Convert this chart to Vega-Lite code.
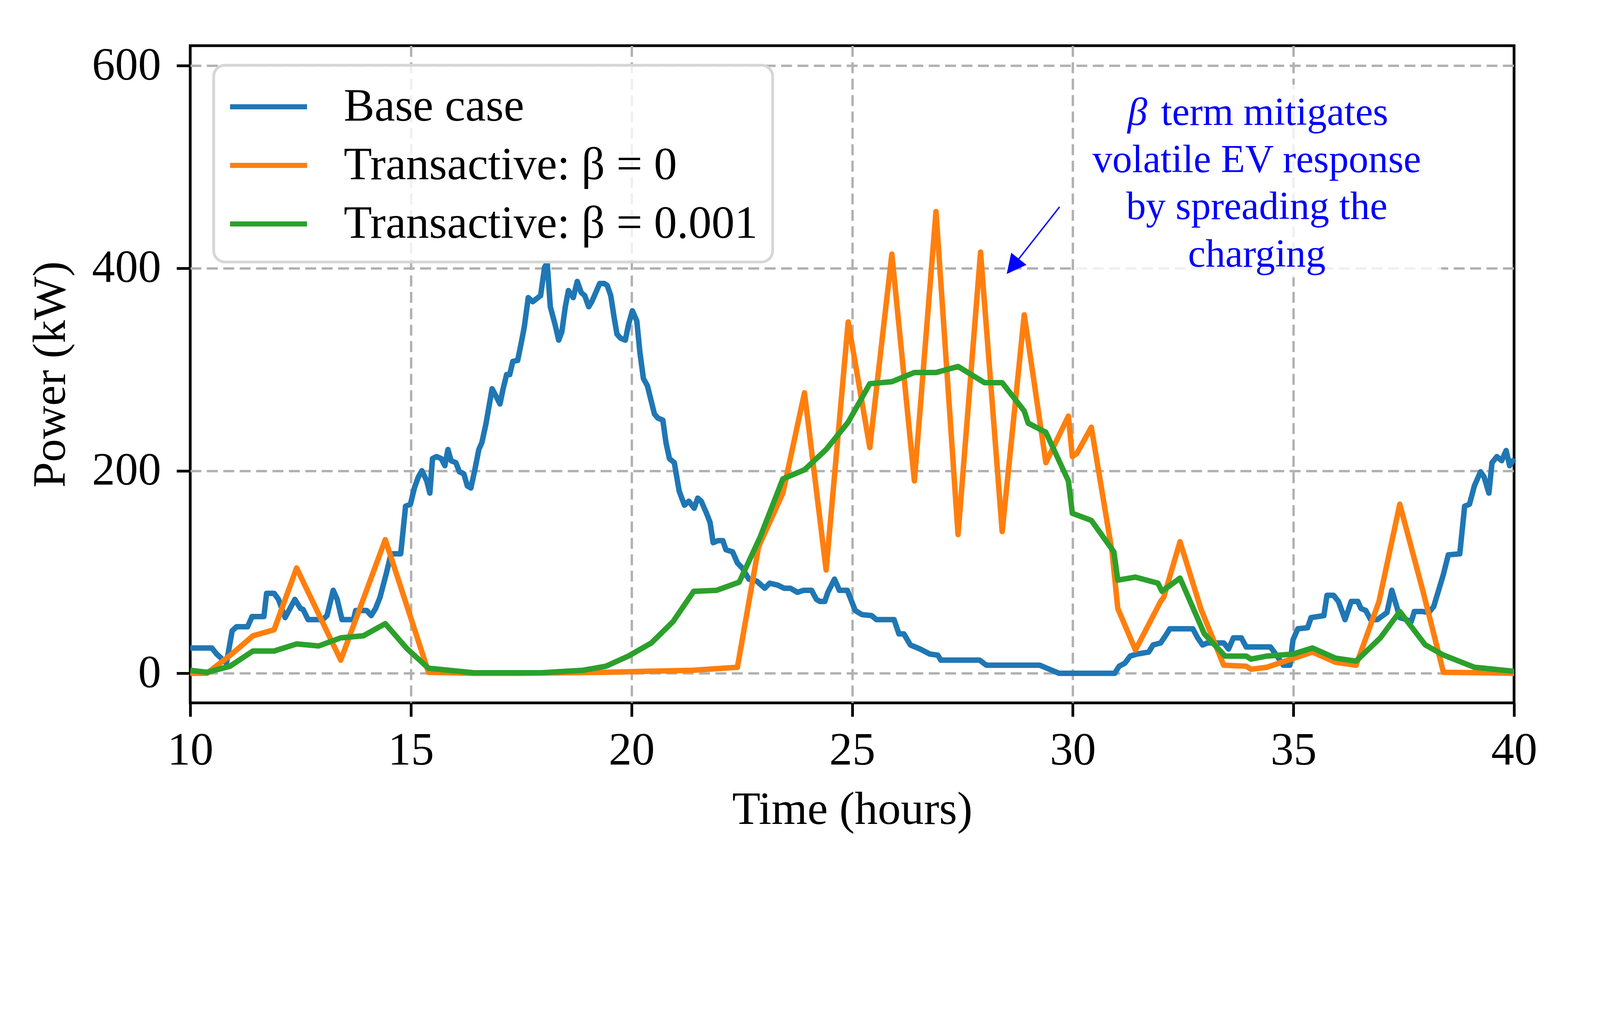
{
  "$schema": "https://vega.github.io/schema/vega-lite/v6.json",
  "width": 3389,
  "height": 1683,
  "autosize": {"type": "none"},
  "padding": {"left": 487, "top": 117, "right": 217, "bottom": 461},
  "background": "white",
  "view": {"stroke": "black", "strokeWidth": 7},
  "config": {
    "font": "Liberation Serif",
    "axis": {
      "domain": false,
      "grid": true,
      "gridColor": "#b0b0b0",
      "gridWidth": 6,
      "gridDash": [28, 14],
      "ticks": true,
      "tickColor": "black",
      "tickWidth": 7,
      "tickSize": 35,
      "labelFont": "Liberation Serif",
      "labelFontSize": 118,
      "labelColor": "black",
      "labelLimit": 1000,
      "labelFlush": false,
      "labelOverlap": false,
      "minExtent": 0,
      "maxExtent": 2000,
      "format": "d",
      "titleFont": "Liberation Serif",
      "titleFontSize": 118,
      "titleFontWeight": "normal",
      "titleColor": "black",
      "titleLimit": 3000
    },
    "legend": {
      "orient": "none",
      "legendX": 60,
      "legendY": 50,
      "padding": 38,
      "rowPadding": 22,
      "symbolType": "M-1.6,0H1.6",
      "symbolSize": 15178,
      "symbolStrokeWidth": 13,
      "symbolOffset": 34,
      "labelOffset": 124,
      "labelFont": "Liberation Serif",
      "labelFontSize": 118,
      "labelColor": "black",
      "labelLimit": 0,
      "strokeColor": "#d6d6d6",
      "strokeWidth": 7,
      "fillColor": "rgba(255,255,255,0.8)",
      "cornerRadius": 29
    }
  },
  "datasets": {
    "series": [
      {"hour": 10.0, "kw": 25, "series": "Base case"},
      {"hour": 10.49, "kw": 25, "series": "Base case"},
      {"hour": 10.6, "kw": 19, "series": "Base case"},
      {"hour": 10.7, "kw": 15, "series": "Base case"},
      {"hour": 10.82, "kw": 10, "series": "Base case"},
      {"hour": 10.95, "kw": 42, "series": "Base case"},
      {"hour": 11.05, "kw": 46, "series": "Base case"},
      {"hour": 11.3, "kw": 46, "series": "Base case"},
      {"hour": 11.4, "kw": 56, "series": "Base case"},
      {"hour": 11.67, "kw": 56, "series": "Base case"},
      {"hour": 11.73, "kw": 79, "series": "Base case"},
      {"hour": 11.9, "kw": 79, "series": "Base case"},
      {"hour": 12.0, "kw": 73, "series": "Base case"},
      {"hour": 12.15, "kw": 55, "series": "Base case"},
      {"hour": 12.37, "kw": 73, "series": "Base case"},
      {"hour": 12.5, "kw": 64, "series": "Base case"},
      {"hour": 12.56, "kw": 63, "series": "Base case"},
      {"hour": 12.67, "kw": 53, "series": "Base case"},
      {"hour": 13.0, "kw": 53, "series": "Base case"},
      {"hour": 13.1, "kw": 57, "series": "Base case"},
      {"hour": 13.24, "kw": 82, "series": "Base case"},
      {"hour": 13.33, "kw": 73, "series": "Base case"},
      {"hour": 13.44, "kw": 53, "series": "Base case"},
      {"hour": 13.7, "kw": 53, "series": "Base case"},
      {"hour": 13.75, "kw": 62, "series": "Base case"},
      {"hour": 14.0, "kw": 62, "series": "Base case"},
      {"hour": 14.1, "kw": 57, "series": "Base case"},
      {"hour": 14.2, "kw": 64, "series": "Base case"},
      {"hour": 14.3, "kw": 75, "series": "Base case"},
      {"hour": 14.44, "kw": 98, "series": "Base case"},
      {"hour": 14.55, "kw": 118, "series": "Base case"},
      {"hour": 14.77, "kw": 118, "series": "Base case"},
      {"hour": 14.88, "kw": 165, "series": "Base case"},
      {"hour": 14.99, "kw": 167, "series": "Base case"},
      {"hour": 15.08, "kw": 183, "series": "Base case"},
      {"hour": 15.17, "kw": 194, "series": "Base case"},
      {"hour": 15.25, "kw": 200, "series": "Base case"},
      {"hour": 15.36, "kw": 190, "series": "Base case"},
      {"hour": 15.43, "kw": 178, "series": "Base case"},
      {"hour": 15.49, "kw": 212, "series": "Base case"},
      {"hour": 15.58, "kw": 214, "series": "Base case"},
      {"hour": 15.69, "kw": 212, "series": "Base case"},
      {"hour": 15.77, "kw": 205, "series": "Base case"},
      {"hour": 15.84, "kw": 221, "series": "Base case"},
      {"hour": 15.91, "kw": 210, "series": "Base case"},
      {"hour": 16.02, "kw": 208, "series": "Base case"},
      {"hour": 16.1, "kw": 199, "series": "Base case"},
      {"hour": 16.2, "kw": 197, "series": "Base case"},
      {"hour": 16.28, "kw": 185, "series": "Base case"},
      {"hour": 16.36, "kw": 183, "series": "Base case"},
      {"hour": 16.45, "kw": 201, "series": "Base case"},
      {"hour": 16.54, "kw": 221, "series": "Base case"},
      {"hour": 16.61, "kw": 228, "series": "Base case"},
      {"hour": 16.7, "kw": 246, "series": "Base case"},
      {"hour": 16.76, "kw": 261, "series": "Base case"},
      {"hour": 16.84, "kw": 281, "series": "Base case"},
      {"hour": 16.95, "kw": 272, "series": "Base case"},
      {"hour": 17.02, "kw": 266, "series": "Base case"},
      {"hour": 17.09, "kw": 281, "series": "Base case"},
      {"hour": 17.17, "kw": 295, "series": "Base case"},
      {"hour": 17.24, "kw": 295, "series": "Base case"},
      {"hour": 17.31, "kw": 308, "series": "Base case"},
      {"hour": 17.42, "kw": 309, "series": "Base case"},
      {"hour": 17.5, "kw": 326, "series": "Base case"},
      {"hour": 17.57, "kw": 342, "series": "Base case"},
      {"hour": 17.66, "kw": 371, "series": "Base case"},
      {"hour": 17.76, "kw": 367, "series": "Base case"},
      {"hour": 17.94, "kw": 373, "series": "Base case"},
      {"hour": 18.03, "kw": 401, "series": "Base case"},
      {"hour": 18.09, "kw": 405, "series": "Base case"},
      {"hour": 18.16, "kw": 362, "series": "Base case"},
      {"hour": 18.27, "kw": 344, "series": "Base case"},
      {"hour": 18.35, "kw": 329, "series": "Base case"},
      {"hour": 18.42, "kw": 337, "series": "Base case"},
      {"hour": 18.5, "kw": 362, "series": "Base case"},
      {"hour": 18.57, "kw": 378, "series": "Base case"},
      {"hour": 18.68, "kw": 371, "series": "Base case"},
      {"hour": 18.77, "kw": 387, "series": "Base case"},
      {"hour": 18.86, "kw": 376, "series": "Base case"},
      {"hour": 18.94, "kw": 373, "series": "Base case"},
      {"hour": 19.03, "kw": 362, "series": "Base case"},
      {"hour": 19.1, "kw": 367, "series": "Base case"},
      {"hour": 19.19, "kw": 376, "series": "Base case"},
      {"hour": 19.28, "kw": 385, "series": "Base case"},
      {"hour": 19.38, "kw": 385, "series": "Base case"},
      {"hour": 19.45, "kw": 383, "series": "Base case"},
      {"hour": 19.53, "kw": 373, "series": "Base case"},
      {"hour": 19.6, "kw": 353, "series": "Base case"},
      {"hour": 19.67, "kw": 335, "series": "Base case"},
      {"hour": 19.75, "kw": 331, "series": "Base case"},
      {"hour": 19.86, "kw": 329, "series": "Base case"},
      {"hour": 19.93, "kw": 344, "series": "Base case"},
      {"hour": 20.02, "kw": 358, "series": "Base case"},
      {"hour": 20.12, "kw": 348, "series": "Base case"},
      {"hour": 20.19, "kw": 317, "series": "Base case"},
      {"hour": 20.27, "kw": 291, "series": "Base case"},
      {"hour": 20.36, "kw": 284, "series": "Base case"},
      {"hour": 20.44, "kw": 270, "series": "Base case"},
      {"hour": 20.52, "kw": 256, "series": "Base case"},
      {"hour": 20.6, "kw": 252, "series": "Base case"},
      {"hour": 20.71, "kw": 250, "series": "Base case"},
      {"hour": 20.78, "kw": 228, "series": "Base case"},
      {"hour": 20.86, "kw": 212, "series": "Base case"},
      {"hour": 20.97, "kw": 208, "series": "Base case"},
      {"hour": 21.08, "kw": 180, "series": "Base case"},
      {"hour": 21.2, "kw": 166, "series": "Base case"},
      {"hour": 21.3, "kw": 170, "series": "Base case"},
      {"hour": 21.42, "kw": 163, "series": "Base case"},
      {"hour": 21.5, "kw": 173, "series": "Base case"},
      {"hour": 21.58, "kw": 170, "series": "Base case"},
      {"hour": 21.7, "kw": 158, "series": "Base case"},
      {"hour": 21.78, "kw": 149, "series": "Base case"},
      {"hour": 21.85, "kw": 129, "series": "Base case"},
      {"hour": 21.96, "kw": 131, "series": "Base case"},
      {"hour": 22.07, "kw": 131, "series": "Base case"},
      {"hour": 22.14, "kw": 122, "series": "Base case"},
      {"hour": 22.29, "kw": 120, "series": "Base case"},
      {"hour": 22.4, "kw": 109, "series": "Base case"},
      {"hour": 22.51, "kw": 104, "series": "Base case"},
      {"hour": 22.66, "kw": 93, "series": "Base case"},
      {"hour": 22.84, "kw": 91, "series": "Base case"},
      {"hour": 23.02, "kw": 84, "series": "Base case"},
      {"hour": 23.13, "kw": 89, "series": "Base case"},
      {"hour": 23.32, "kw": 87, "series": "Base case"},
      {"hour": 23.46, "kw": 84, "series": "Base case"},
      {"hour": 23.6, "kw": 84, "series": "Base case"},
      {"hour": 23.76, "kw": 80, "series": "Base case"},
      {"hour": 23.9, "kw": 82, "series": "Base case"},
      {"hour": 24.08, "kw": 82, "series": "Base case"},
      {"hour": 24.19, "kw": 73, "series": "Base case"},
      {"hour": 24.27, "kw": 71, "series": "Base case"},
      {"hour": 24.38, "kw": 71, "series": "Base case"},
      {"hour": 24.45, "kw": 80, "series": "Base case"},
      {"hour": 24.6, "kw": 93, "series": "Base case"},
      {"hour": 24.71, "kw": 82, "series": "Base case"},
      {"hour": 24.89, "kw": 82, "series": "Base case"},
      {"hour": 25.07, "kw": 62, "series": "Base case"},
      {"hour": 25.22, "kw": 58, "series": "Base case"},
      {"hour": 25.44, "kw": 57, "series": "Base case"},
      {"hour": 25.55, "kw": 53, "series": "Base case"},
      {"hour": 25.95, "kw": 53, "series": "Base case"},
      {"hour": 26.06, "kw": 39, "series": "Base case"},
      {"hour": 26.17, "kw": 39, "series": "Base case"},
      {"hour": 26.32, "kw": 28, "series": "Base case"},
      {"hour": 26.54, "kw": 24, "series": "Base case"},
      {"hour": 26.76, "kw": 19, "series": "Base case"},
      {"hour": 26.94, "kw": 18, "series": "Base case"},
      {"hour": 27.01, "kw": 13, "series": "Base case"},
      {"hour": 27.89, "kw": 13, "series": "Base case"},
      {"hour": 28.04, "kw": 8, "series": "Base case"},
      {"hour": 29.25, "kw": 8, "series": "Base case"},
      {"hour": 29.47, "kw": 4, "series": "Base case"},
      {"hour": 29.69, "kw": 0, "series": "Base case"},
      {"hour": 30.95, "kw": 0, "series": "Base case"},
      {"hour": 31.05, "kw": 7, "series": "Base case"},
      {"hour": 31.18, "kw": 10, "series": "Base case"},
      {"hour": 31.3, "kw": 17, "series": "Base case"},
      {"hour": 31.45, "kw": 19, "series": "Base case"},
      {"hour": 31.72, "kw": 21, "series": "Base case"},
      {"hour": 31.82, "kw": 28, "series": "Base case"},
      {"hour": 31.99, "kw": 30, "series": "Base case"},
      {"hour": 32.1, "kw": 37, "series": "Base case"},
      {"hour": 32.2, "kw": 44, "series": "Base case"},
      {"hour": 32.72, "kw": 44, "series": "Base case"},
      {"hour": 32.83, "kw": 35, "series": "Base case"},
      {"hour": 32.94, "kw": 28, "series": "Base case"},
      {"hour": 33.05, "kw": 30, "series": "Base case"},
      {"hour": 33.42, "kw": 30, "series": "Base case"},
      {"hour": 33.53, "kw": 24, "series": "Base case"},
      {"hour": 33.64, "kw": 35, "series": "Base case"},
      {"hour": 33.82, "kw": 35, "series": "Base case"},
      {"hour": 33.93, "kw": 26, "series": "Base case"},
      {"hour": 34.48, "kw": 26, "series": "Base case"},
      {"hour": 34.63, "kw": 17, "series": "Base case"},
      {"hour": 34.77, "kw": 8, "series": "Base case"},
      {"hour": 34.92, "kw": 8, "series": "Base case"},
      {"hour": 34.99, "kw": 33, "series": "Base case"},
      {"hour": 35.1, "kw": 44, "series": "Base case"},
      {"hour": 35.32, "kw": 45, "series": "Base case"},
      {"hour": 35.4, "kw": 55, "series": "Base case"},
      {"hour": 35.69, "kw": 57, "series": "Base case"},
      {"hour": 35.76, "kw": 77, "series": "Base case"},
      {"hour": 35.91, "kw": 77, "series": "Base case"},
      {"hour": 36.02, "kw": 71, "series": "Base case"},
      {"hour": 36.17, "kw": 53, "series": "Base case"},
      {"hour": 36.31, "kw": 71, "series": "Base case"},
      {"hour": 36.46, "kw": 71, "series": "Base case"},
      {"hour": 36.53, "kw": 64, "series": "Base case"},
      {"hour": 36.64, "kw": 62, "series": "Base case"},
      {"hour": 36.75, "kw": 53, "series": "Base case"},
      {"hour": 36.9, "kw": 53, "series": "Base case"},
      {"hour": 37.12, "kw": 60, "series": "Base case"},
      {"hour": 37.23, "kw": 82, "series": "Base case"},
      {"hour": 37.34, "kw": 66, "series": "Base case"},
      {"hour": 37.41, "kw": 55, "series": "Base case"},
      {"hour": 37.56, "kw": 53, "series": "Base case"},
      {"hour": 37.67, "kw": 51, "series": "Base case"},
      {"hour": 37.74, "kw": 61, "series": "Base case"},
      {"hour": 37.93, "kw": 61, "series": "Base case"},
      {"hour": 38.07, "kw": 60, "series": "Base case"},
      {"hour": 38.18, "kw": 66, "series": "Base case"},
      {"hour": 38.29, "kw": 82, "series": "Base case"},
      {"hour": 38.4, "kw": 98, "series": "Base case"},
      {"hour": 38.51, "kw": 117, "series": "Base case"},
      {"hour": 38.77, "kw": 118, "series": "Base case"},
      {"hour": 38.88, "kw": 165, "series": "Base case"},
      {"hour": 38.99, "kw": 167, "series": "Base case"},
      {"hour": 39.1, "kw": 185, "series": "Base case"},
      {"hour": 39.24, "kw": 199, "series": "Base case"},
      {"hour": 39.32, "kw": 194, "series": "Base case"},
      {"hour": 39.43, "kw": 178, "series": "Base case"},
      {"hour": 39.5, "kw": 208, "series": "Base case"},
      {"hour": 39.61, "kw": 214, "series": "Base case"},
      {"hour": 39.72, "kw": 210, "series": "Base case"},
      {"hour": 39.82, "kw": 220, "series": "Base case"},
      {"hour": 39.9, "kw": 205, "series": "Base case"},
      {"hour": 39.97, "kw": 210, "series": "Base case"},
      {"hour": 40.0, "kw": 208, "series": "Base case"},

      {"hour": 10.0, "kw": 0, "series": "Transactive: β = 0"},
      {"hour": 10.38, "kw": 0, "series": "Transactive: β = 0"},
      {"hour": 10.94, "kw": 19, "series": "Transactive: β = 0"},
      {"hour": 11.42, "kw": 37, "series": "Transactive: β = 0"},
      {"hour": 11.9, "kw": 43, "series": "Transactive: β = 0"},
      {"hour": 12.41, "kw": 104, "series": "Transactive: β = 0"},
      {"hour": 13.41, "kw": 13, "series": "Transactive: β = 0"},
      {"hour": 14.42, "kw": 132, "series": "Transactive: β = 0"},
      {"hour": 15.4, "kw": 1, "series": "Transactive: β = 0"},
      {"hour": 16.4, "kw": 0, "series": "Transactive: β = 0"},
      {"hour": 17.4, "kw": 0, "series": "Transactive: β = 0"},
      {"hour": 18.4, "kw": 0.5, "series": "Transactive: β = 0"},
      {"hour": 19.4, "kw": 1, "series": "Transactive: β = 0"},
      {"hour": 20.4, "kw": 2, "series": "Transactive: β = 0"},
      {"hour": 21.4, "kw": 3, "series": "Transactive: β = 0"},
      {"hour": 22.4, "kw": 6, "series": "Transactive: β = 0"},
      {"hour": 22.88, "kw": 125, "series": "Transactive: β = 0"},
      {"hour": 23.43, "kw": 178, "series": "Transactive: β = 0"},
      {"hour": 23.92, "kw": 277, "series": "Transactive: β = 0"},
      {"hour": 24.41, "kw": 102, "series": "Transactive: β = 0"},
      {"hour": 24.91, "kw": 347, "series": "Transactive: β = 0"},
      {"hour": 25.4, "kw": 223, "series": "Transactive: β = 0"},
      {"hour": 25.9, "kw": 414, "series": "Transactive: β = 0"},
      {"hour": 26.41, "kw": 190, "series": "Transactive: β = 0"},
      {"hour": 26.9, "kw": 456, "series": "Transactive: β = 0"},
      {"hour": 27.4, "kw": 137, "series": "Transactive: β = 0"},
      {"hour": 27.91, "kw": 416, "series": "Transactive: β = 0"},
      {"hour": 28.4, "kw": 140, "series": "Transactive: β = 0"},
      {"hour": 28.9, "kw": 354, "series": "Transactive: β = 0"},
      {"hour": 29.39, "kw": 208, "series": "Transactive: β = 0"},
      {"hour": 29.9, "kw": 254, "series": "Transactive: β = 0"},
      {"hour": 29.99, "kw": 214, "series": "Transactive: β = 0"},
      {"hour": 30.09, "kw": 217, "series": "Transactive: β = 0"},
      {"hour": 30.42, "kw": 243, "series": "Transactive: β = 0"},
      {"hour": 30.89, "kw": 120, "series": "Transactive: β = 0"},
      {"hour": 31.02, "kw": 64, "series": "Transactive: β = 0"},
      {"hour": 31.42, "kw": 23, "series": "Transactive: β = 0"},
      {"hour": 31.99, "kw": 71, "series": "Transactive: β = 0"},
      {"hour": 32.06, "kw": 75, "series": "Transactive: β = 0"},
      {"hour": 32.43, "kw": 130, "series": "Transactive: β = 0"},
      {"hour": 32.9, "kw": 64, "series": "Transactive: β = 0"},
      {"hour": 33.42, "kw": 8, "series": "Transactive: β = 0"},
      {"hour": 33.93, "kw": 7, "series": "Transactive: β = 0"},
      {"hour": 34.04, "kw": 4, "series": "Transactive: β = 0"},
      {"hour": 34.4, "kw": 6, "series": "Transactive: β = 0"},
      {"hour": 35.43, "kw": 21, "series": "Transactive: β = 0"},
      {"hour": 35.95, "kw": 11, "series": "Transactive: β = 0"},
      {"hour": 36.42, "kw": 8, "series": "Transactive: β = 0"},
      {"hour": 36.94, "kw": 71, "series": "Transactive: β = 0"},
      {"hour": 37.41, "kw": 167, "series": "Transactive: β = 0"},
      {"hour": 37.93, "kw": 82, "series": "Transactive: β = 0"},
      {"hour": 38.4, "kw": 1, "series": "Transactive: β = 0"},
      {"hour": 39.4, "kw": 0.5, "series": "Transactive: β = 0"},
      {"hour": 40.0, "kw": 0, "series": "Transactive: β = 0"},

      {"hour": 10.0, "kw": 3, "series": "Transactive: β = 0.001"},
      {"hour": 10.38, "kw": 1, "series": "Transactive: β = 0.001"},
      {"hour": 10.9, "kw": 7, "series": "Transactive: β = 0.001"},
      {"hour": 11.42, "kw": 22, "series": "Transactive: β = 0.001"},
      {"hour": 11.9, "kw": 22, "series": "Transactive: β = 0.001"},
      {"hour": 12.41, "kw": 29, "series": "Transactive: β = 0.001"},
      {"hour": 12.91, "kw": 27, "series": "Transactive: β = 0.001"},
      {"hour": 13.41, "kw": 35, "series": "Transactive: β = 0.001"},
      {"hour": 13.92, "kw": 37, "series": "Transactive: β = 0.001"},
      {"hour": 14.42, "kw": 49, "series": "Transactive: β = 0.001"},
      {"hour": 14.92, "kw": 24, "series": "Transactive: β = 0.001"},
      {"hour": 15.4, "kw": 5, "series": "Transactive: β = 0.001"},
      {"hour": 16.43, "kw": 0.5, "series": "Transactive: β = 0.001"},
      {"hour": 17.94, "kw": 0.5, "series": "Transactive: β = 0.001"},
      {"hour": 18.9, "kw": 3, "series": "Transactive: β = 0.001"},
      {"hour": 19.42, "kw": 7, "series": "Transactive: β = 0.001"},
      {"hour": 19.93, "kw": 17, "series": "Transactive: β = 0.001"},
      {"hour": 20.45, "kw": 30, "series": "Transactive: β = 0.001"},
      {"hour": 20.94, "kw": 51, "series": "Transactive: β = 0.001"},
      {"hour": 21.41, "kw": 81, "series": "Transactive: β = 0.001"},
      {"hour": 21.93, "kw": 82, "series": "Transactive: β = 0.001"},
      {"hour": 22.44, "kw": 90, "series": "Transactive: β = 0.001"},
      {"hour": 22.91, "kw": 134, "series": "Transactive: β = 0.001"},
      {"hour": 23.43, "kw": 192, "series": "Transactive: β = 0.001"},
      {"hour": 23.92, "kw": 201, "series": "Transactive: β = 0.001"},
      {"hour": 24.41, "kw": 221, "series": "Transactive: β = 0.001"},
      {"hour": 24.91, "kw": 248, "series": "Transactive: β = 0.001"},
      {"hour": 25.4, "kw": 286, "series": "Transactive: β = 0.001"},
      {"hour": 25.9, "kw": 288, "series": "Transactive: β = 0.001"},
      {"hour": 26.41, "kw": 297, "series": "Transactive: β = 0.001"},
      {"hour": 26.9, "kw": 297, "series": "Transactive: β = 0.001"},
      {"hour": 27.4, "kw": 303, "series": "Transactive: β = 0.001"},
      {"hour": 28.0, "kw": 287, "series": "Transactive: β = 0.001"},
      {"hour": 28.4, "kw": 287, "series": "Transactive: β = 0.001"},
      {"hour": 28.9, "kw": 259, "series": "Transactive: β = 0.001"},
      {"hour": 28.99, "kw": 247, "series": "Transactive: β = 0.001"},
      {"hour": 29.39, "kw": 238, "series": "Transactive: β = 0.001"},
      {"hour": 29.9, "kw": 190, "series": "Transactive: β = 0.001"},
      {"hour": 29.99, "kw": 158, "series": "Transactive: β = 0.001"},
      {"hour": 30.42, "kw": 151, "series": "Transactive: β = 0.001"},
      {"hour": 30.93, "kw": 120, "series": "Transactive: β = 0.001"},
      {"hour": 31.02, "kw": 92, "series": "Transactive: β = 0.001"},
      {"hour": 31.42, "kw": 95, "series": "Transactive: β = 0.001"},
      {"hour": 31.93, "kw": 89, "series": "Transactive: β = 0.001"},
      {"hour": 32.02, "kw": 81, "series": "Transactive: β = 0.001"},
      {"hour": 32.43, "kw": 94, "series": "Transactive: β = 0.001"},
      {"hour": 32.98, "kw": 39, "series": "Transactive: β = 0.001"},
      {"hour": 33.45, "kw": 17, "series": "Transactive: β = 0.001"},
      {"hour": 33.93, "kw": 17, "series": "Transactive: β = 0.001"},
      {"hour": 34.04, "kw": 14, "series": "Transactive: β = 0.001"},
      {"hour": 34.4, "kw": 17, "series": "Transactive: β = 0.001"},
      {"hour": 34.99, "kw": 19, "series": "Transactive: β = 0.001"},
      {"hour": 35.43, "kw": 25, "series": "Transactive: β = 0.001"},
      {"hour": 35.95, "kw": 15, "series": "Transactive: β = 0.001"},
      {"hour": 36.42, "kw": 12, "series": "Transactive: β = 0.001"},
      {"hour": 36.97, "kw": 35, "series": "Transactive: β = 0.001"},
      {"hour": 37.41, "kw": 61, "series": "Transactive: β = 0.001"},
      {"hour": 37.99, "kw": 28, "series": "Transactive: β = 0.001"},
      {"hour": 38.4, "kw": 18, "series": "Transactive: β = 0.001"},
      {"hour": 39.1, "kw": 6, "series": "Transactive: β = 0.001"},
      {"hour": 40.0, "kw": 2, "series": "Transactive: β = 0.001"}
    ],
    "notebox": [
      {"hour": 30.07, "hour2": 38.35, "kw": 390.8, "kw2": 581.3}
    ],
    "arrow": [
      {"hour": 29.70, "kw": 460.6, "hour2": 28.775, "kw2": 409.2}
    ],
    "arrowhead": [
      {"hour": 28.64, "kw": 401.8}
    ],
    "beta": [
      {"hour": 31.24, "kw": 541.6, "label": "β"}
    ],
    "note1": [
      {"hour": 32.0, "kw": 541.6, "label": "term mitigates"}
    ],
    "notelines": [
      {"hour": 34.17, "kw": 494.7, "label": "volatile EV response"},
      {"hour": 34.17, "kw": 448.6, "label": "by spreading the"},
      {"hour": 34.17, "kw": 401.5, "label": "charging"}
    ]
  },
  "layer": [
    {
      "data": {"name": "notebox"},
      "mark": {"type": "rect", "fill": "white", "opacity": 0.8},
      "encoding": {
        "x": {
          "field": "hour", "type": "quantitative", "title": "Time (hours)",
          "scale": {"domain": [10, 40], "nice": false, "zero": false},
          "axis": {
            "values": [10, 15, 20, 25, 30, 35, 40],
            "labelPadding": 29,
            "titlePadding": 35,
            "gridOpacity": {"condition": {"test": "datum.value <= 10 || datum.value >= 40", "value": 0}, "value": 1}
          }
        },
        "x2": {"field": "hour2"},
        "y": {"field": "kw", "type": "quantitative", "title": "Power (kW)", "scale": {"domain": [-29.2, 619.8], "nice": false, "zero": false}, "axis": {"values": [0, 200, 400, 600], "labelPadding": 40, "titlePadding": 45}},
        "y2": {"field": "kw2"}
      }
    },
    {
      "data": {"name": "series"},
      "mark": {"type": "line", "strokeWidth": 14, "strokeJoin": "round"},
      "encoding": {
        "x": {"field": "hour", "type": "quantitative", "title": "Time (hours)"},
        "y": {"field": "kw", "type": "quantitative", "title": "Power (kW)"},
        "color": {
          "field": "series",
          "type": "nominal",
          "scale": {
            "domain": ["Base case", "Transactive: β = 0", "Transactive: β = 0.001"],
            "range": ["#1f77b4", "#ff7f0e", "#2ca02c"]
          },
          "legend": {"title": null}
        }
      }
    },
    {
      "data": {"name": "arrow"},
      "mark": {"type": "rule", "color": "#0000ff", "strokeWidth": 3.5},
      "encoding": {
        "x": {"field": "hour", "type": "quantitative", "title": "Time (hours)"},
        "y": {"field": "kw", "type": "quantitative", "title": "Power (kW)"},
        "x2": {"field": "hour2"},
        "y2": {"field": "kw2"}
      }
    },
    {
      "data": {"name": "arrowhead"},
      "mark": {"type": "point", "shape": "M0,-1L1,1L-1,1Z", "filled": true, "color": "#0000ff", "size": 2487, "angle": 218.5, "opacity": 1, "strokeWidth": 0},
      "encoding": {
        "x": {"field": "hour", "type": "quantitative", "title": "Time (hours)"},
        "y": {"field": "kw", "type": "quantitative", "title": "Power (kW)"}
      }
    },
    {
      "data": {"name": "beta"},
      "mark": {"type": "text", "font": "Liberation Serif", "fontStyle": "italic", "fontSize": 101.2, "color": "#0000ff", "align": "left", "baseline": "alphabetic"},
      "encoding": {
        "x": {"field": "hour", "type": "quantitative", "title": "Time (hours)"},
        "y": {"field": "kw", "type": "quantitative", "title": "Power (kW)"},
        "text": {"field": "label"}
      }
    },
    {
      "data": {"name": "note1"},
      "mark": {"type": "text", "font": "Liberation Serif", "fontSize": 101.2, "color": "#0000ff", "align": "left", "baseline": "alphabetic"},
      "encoding": {
        "x": {"field": "hour", "type": "quantitative", "title": "Time (hours)"},
        "y": {"field": "kw", "type": "quantitative", "title": "Power (kW)"},
        "text": {"field": "label"}
      }
    },
    {
      "data": {"name": "notelines"},
      "mark": {"type": "text", "font": "Liberation Serif", "fontSize": 101.2, "color": "#0000ff", "align": "center", "baseline": "alphabetic"},
      "encoding": {
        "x": {"field": "hour", "type": "quantitative", "title": "Time (hours)"},
        "y": {"field": "kw", "type": "quantitative", "title": "Power (kW)"},
        "text": {"field": "label"}
      }
    }
  ]
}
